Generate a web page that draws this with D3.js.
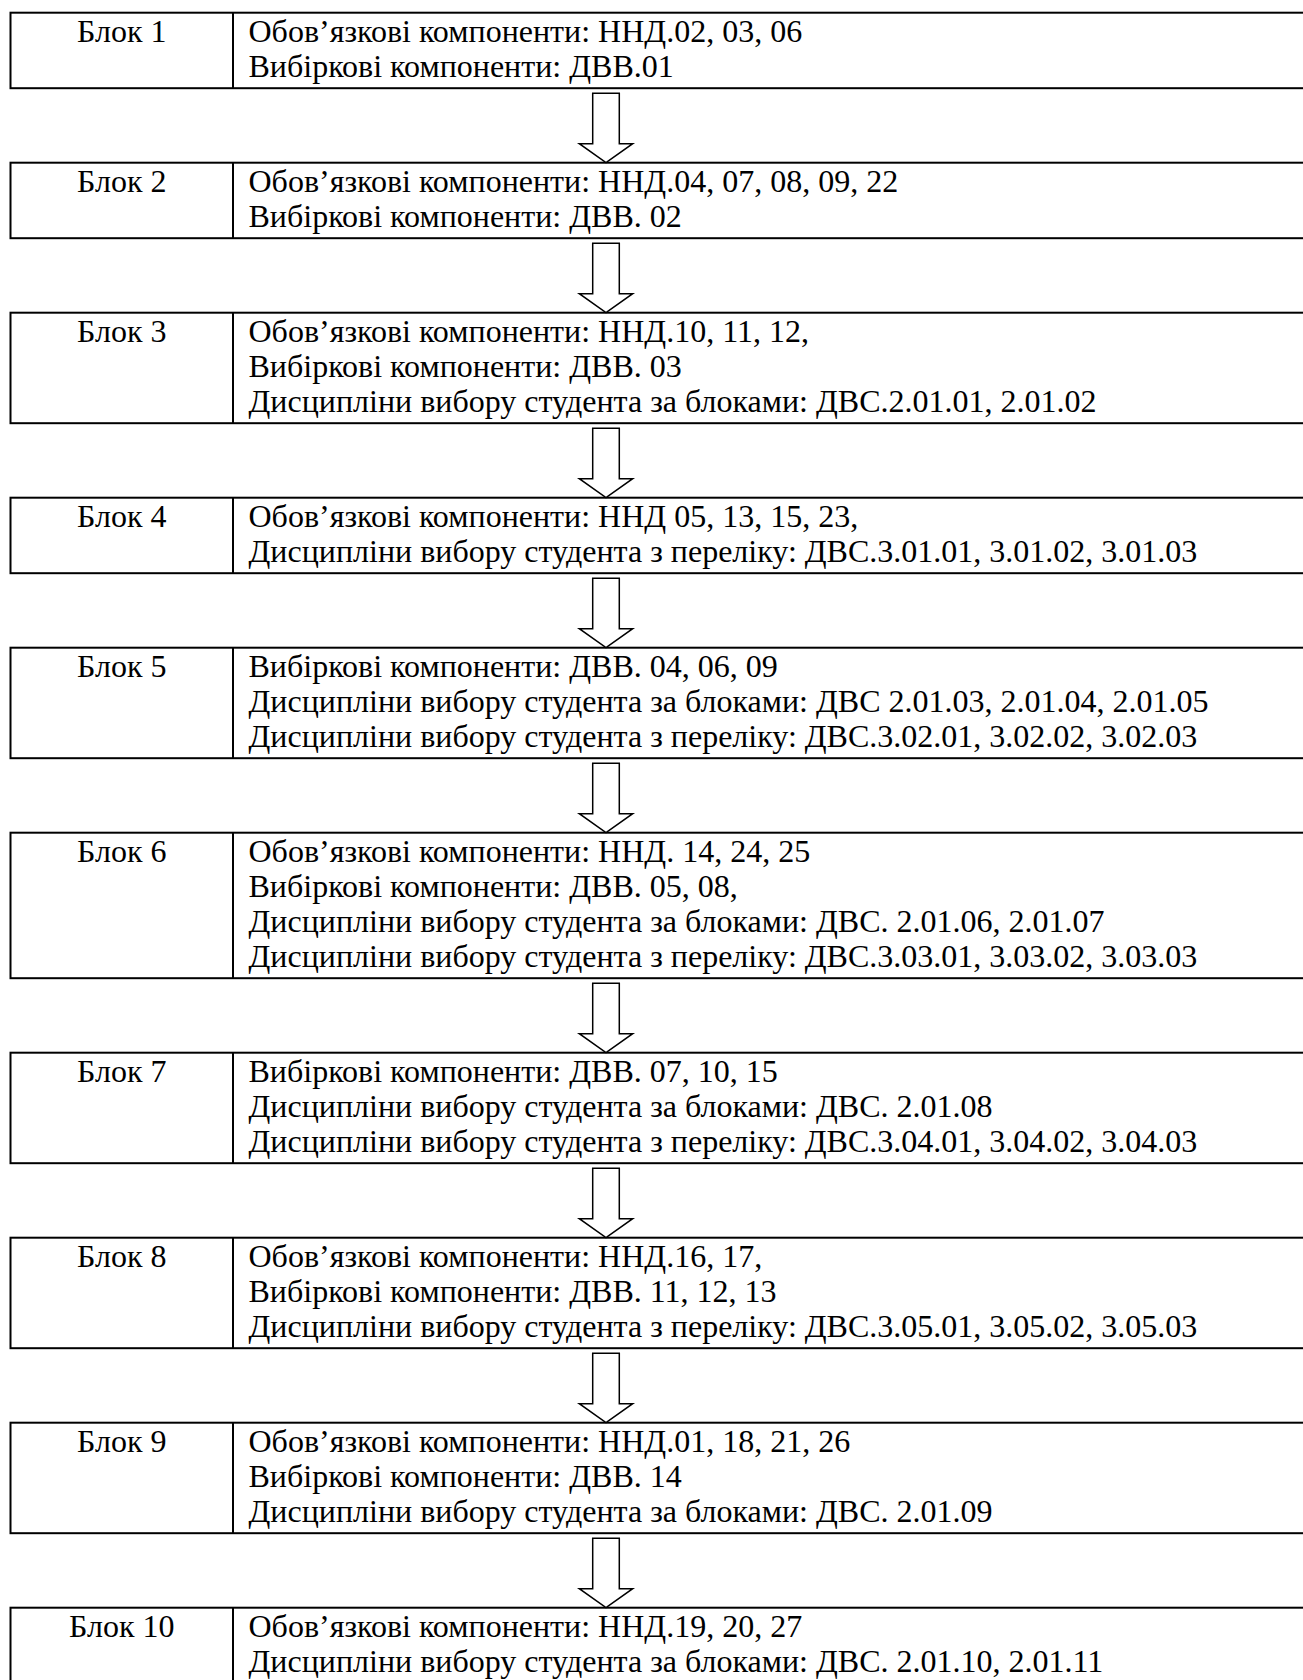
<!DOCTYPE html>
<html>
<head>
<meta charset="utf-8">
<script src="https://cdn.jsdelivr.net/npm/d3@7"></script>
<style>
  html, body { margin: 0; padding: 0; background: #ffffff; }
  svg { display: block; }
</style>
</head>
<body>
<svg id="chart" width="1303" height="1680"></svg>
<script>
// ---- data ----
const blockLabels = ["Блок 1", "Блок 2", "Блок 3", "Блок 4", "Блок 5", "Блок 6", "Блок 7", "Блок 8", "Блок 9", "Блок 10"];
const block1 = ["Обов’язкові компоненти: ННД.02, 03, 06", "Вибіркові компоненти: ДВВ.01"];
const block2 = ["Обов’язкові компоненти: ННД.04, 07, 08, 09, 22", "Вибіркові компоненти: ДВВ. 02"];
const block3 = ["Обов’язкові компоненти: ННД.10, 11, 12,", "Вибіркові компоненти: ДВВ. 03", "Дисципліни вибору студента за блоками: ДВС.2.01.01, 2.01.02"];
const block4 = ["Обов’язкові компоненти: ННД 05, 13, 15, 23,", "Дисципліни вибору студента з переліку: ДВС.3.01.01, 3.01.02, 3.01.03"];
const block5 = ["Вибіркові компоненти: ДВВ. 04, 06, 09", "Дисципліни вибору студента за блоками: ДВС 2.01.03, 2.01.04, 2.01.05", "Дисципліни вибору студента з переліку: ДВС.3.02.01, 3.02.02, 3.02.03"];
const block6 = ["Обов’язкові компоненти: ННД. 14, 24, 25", "Вибіркові компоненти: ДВВ. 05, 08,", "Дисципліни вибору студента за блоками: ДВС. 2.01.06, 2.01.07", "Дисципліни вибору студента з переліку: ДВС.3.03.01, 3.03.02, 3.03.03"];
const block7 = ["Вибіркові компоненти: ДВВ. 07, 10, 15", "Дисципліни вибору студента за блоками: ДВС. 2.01.08", "Дисципліни вибору студента з переліку: ДВС.3.04.01, 3.04.02, 3.04.03"];
const block8 = ["Обов’язкові компоненти: ННД.16, 17,", "Вибіркові компоненти: ДВВ. 11, 12, 13", "Дисципліни вибору студента з переліку: ДВС.3.05.01, 3.05.02, 3.05.03"];
const block9 = ["Обов’язкові компоненти: ННД.01, 18, 21, 26", "Вибіркові компоненти: ДВВ. 14", "Дисципліни вибору студента за блоками: ДВС. 2.01.09"];
const block10 = ["Обов’язкові компоненти: ННД.19, 20, 27", "Дисципліни вибору студента за блоками: ДВС. 2.01.10, 2.01.11"];
const blockLines = [block1, block2, block3, block4, block5, block6, block7, block8, block9, block10];

// ---- layout ----
const FONT = "'Liberation Serif', 'Times New Roman', 'DejaVu Serif', serif";
const fontSize = 32;
const lineH = 35;        // line pitch
const padTop = 29;       // top border -> first baseline
const padExtra = 5.5;    // box height = n*lineH + padExtra
const gap = 74.5;        // vertical distance between boxes
const top0 = 12.7;

const xLeft = 10.5, xDiv = 233, xRight = 1312, xText = 248.5;
const arrowX = 606, shaftHalf = 13.3, headHalf = 26.7, headH = 19, shaftGap = 5;

const blocks = [];
let yCursor = top0;
blockLines.forEach((lines, i) => {
  const h = lines.length * lineH + padExtra;
  blocks.push({ label: blockLabels[i], lines, top: yCursor, h });
  yCursor += h + gap;
});

// scale mapping line index -> baseline offset inside a box
const lineScale = d3.scaleLinear().domain([0, 1]).range([padTop, padTop + lineH]);

const svg = d3.select("#chart");

const g = svg.selectAll("g.block").data(blocks).enter().append("g").attr("class", "block");

g.append("rect")
  .attr("x", xLeft).attr("y", d => d.top)
  .attr("width", xRight - xLeft).attr("height", d => d.h)
  .attr("fill", "#ffffff").attr("stroke", "#000000").attr("stroke-width", 2);

g.append("line")
  .attr("x1", xDiv).attr("x2", xDiv)
  .attr("y1", d => d.top).attr("y2", d => d.top + d.h)
  .attr("stroke", "#000000").attr("stroke-width", 2);

g.append("text")
  .attr("x", (xLeft + xDiv) / 2)
  .attr("y", d => d.top + lineScale(0))
  .attr("text-anchor", "middle")
  .attr("font-family", FONT).attr("font-size", fontSize).attr("fill", "#000")
  .text(d => d.label);

g.each(function(d) {
  d3.select(this).selectAll("text.line").data(d.lines).enter().append("text")
    .attr("class", "line")
    .attr("x", xText)
    .attr("y", (t, j) => d.top + lineScale(j))
    .attr("font-family", FONT).attr("font-size", fontSize).attr("fill", "#000")
    .text(t => t);
});

// arrows between consecutive blocks
const arrows = d3.pairs(blocks).map(([a, b]) => ({ y0: a.top + a.h + shaftGap, y1: b.top }));
svg.selectAll("path.arrow").data(arrows).enter().append("path")
  .attr("class", "arrow")
  .attr("d", d => {
    const p = d3.path();
    const yb = d.y1 - headH;
    p.moveTo(arrowX - shaftHalf, d.y0);
    p.lineTo(arrowX + shaftHalf, d.y0);
    p.lineTo(arrowX + shaftHalf, yb);
    p.lineTo(arrowX + headHalf, yb);
    p.lineTo(arrowX, d.y1);
    p.lineTo(arrowX - headHalf, yb);
    p.lineTo(arrowX - shaftHalf, yb);
    p.closePath();
    return p.toString();
  })
  .attr("fill", "#ffffff").attr("stroke", "#000000").attr("stroke-width", 1.5)
  .attr("stroke-linejoin", "miter");
</script>
</body>
</html>
